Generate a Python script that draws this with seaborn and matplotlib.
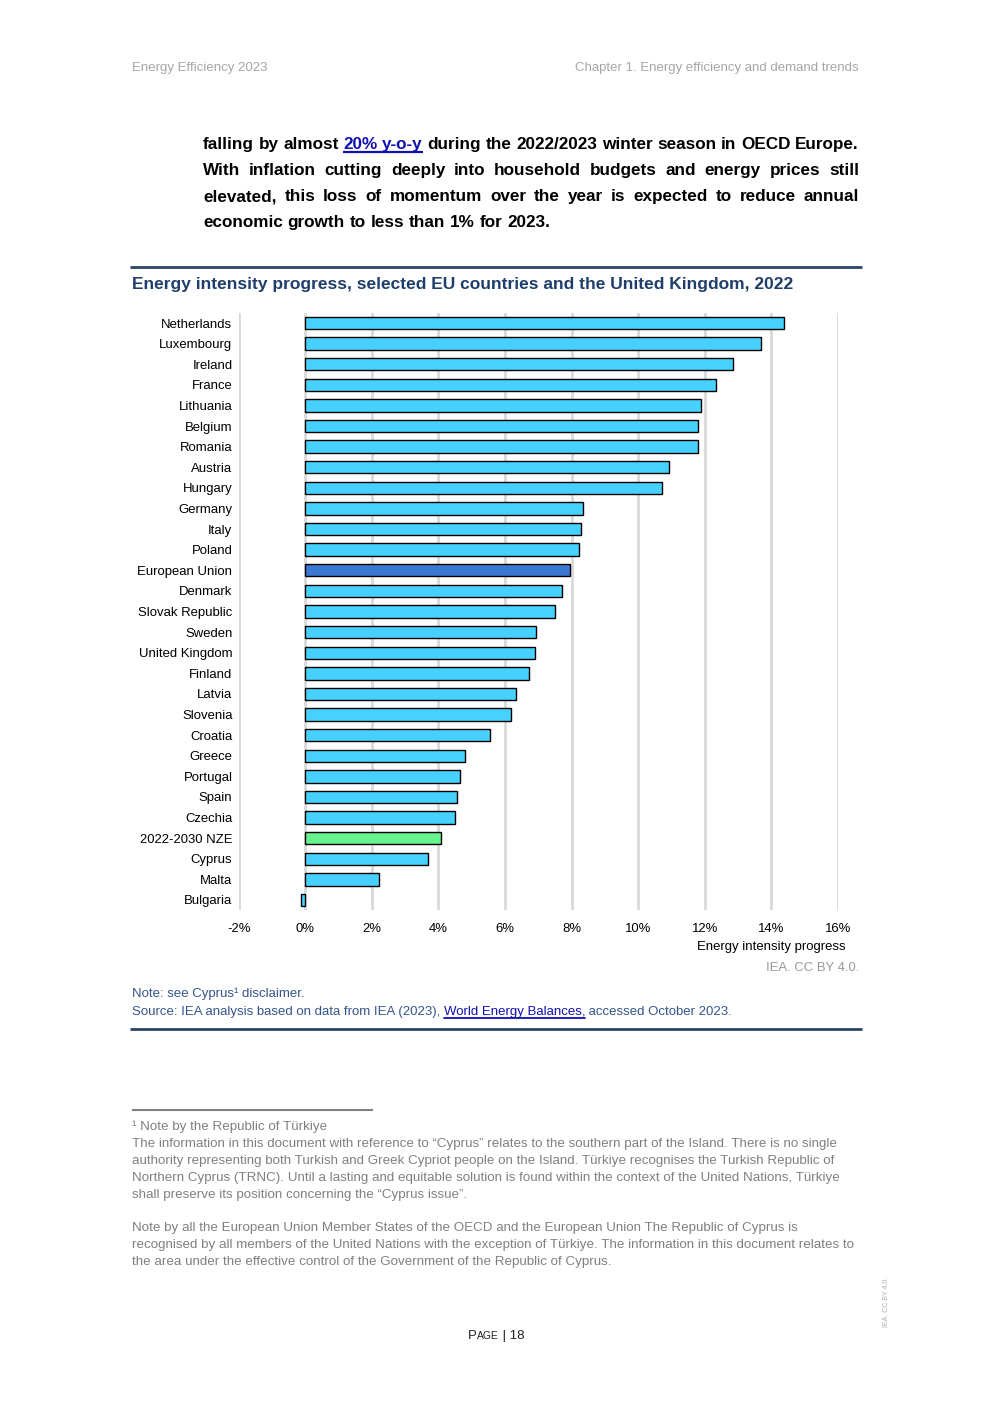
import matplotlib
matplotlib.use("Agg")
import matplotlib.pyplot as plt
from matplotlib.lines import Line2D
import seaborn as sns
import pandas as pd

# ---------------- data ----------------
countries = ["Netherlands", "Luxembourg", "Ireland", "France", "Lithuania", "Belgium",
             "Romania", "Austria", "Hungary", "Germany", "Italy", "Poland",
             "European Union", "Denmark", "Slovak Republic", "Sweden", "United Kingdom",
             "Finland", "Latvia", "Slovenia", "Croatia", "Greece", "Portugal", "Spain",
             "Czechia", "2022-2030 NZE", "Cyprus", "Malta", "Bulgaria"]
values = [14.38, 13.69, 12.85, 12.34, 11.90, 11.81, 11.81, 10.91, 10.70, 8.35, 8.29, 8.23,
          7.96, 7.72, 7.50, 6.94, 6.91, 6.73, 6.34, 6.19, 5.56, 4.80, 4.65, 4.56,
          4.50, 4.08, 3.69, 2.22, -0.12]
eu_name = "European Union"
nze_name = "2022-2030 NZE"
xticks = [-2, 0, 2, 4, 6, 8, 10, 12, 14, 16]
xtick_labels = ["-2%", "0%", "2%", "4%", "6%", "8%", "10%", "12%", "14%", "16%"]

title = "Energy intensity progress, selected EU countries and the United Kingdom, 2022"
xlabel = "Energy intensity progress"
credit = "IEA. CC BY 4.0."

# ---------------- styles ----------------
W, H = 992, 1403
sns.set_theme(style="white")
plt.rcParams['font.family'] = ['Liberation Sans', 'DejaVu Sans']

BAR = "#47D1FF"
EU = "#3B78D4"
NZE = "#66F28C"
GRID = "#D9D9D9"
NAVY = "#1F3E6B"
RULE = "#2C4466"
NOTE = "#34558B"
LINK = "#1010B0"
HEAD = "#A6A6A6"
FOOT = "#808080"

fig = plt.figure(figsize=(W / 100, H / 100), dpi=100)
fig.patch.set_facecolor("white")
renderer = fig.canvas.get_renderer()


def fx(x):
    return x / W


def fy(y):
    return 1 - y / H


def width_of(s, size, weight="normal"):
    t = fig.text(0, 0, s, fontsize=size, fontweight=weight)
    w = t.get_window_extent(renderer).width
    t.remove()
    return w


def fit_size(s, target, weight="normal", base=10.0):
    return base * target / width_of(s, base, weight)


def segments(x, y, segs, size, weight="normal", ha="left"):
    """segs: list of (text, color, underline, size_factor)"""
    widths = [width_of(s, size * f, weight) for s, c, u, f in segs]
    total = sum(widths)
    if ha == "right":
        x = x - total
    elif ha == "center":
        x = x - total / 2
    for (s, c, u, f), w in zip(segs, widths):
        fig.text(fx(x), fy(y), s, fontsize=size * f, fontweight=weight, color=c,
                 va="baseline", ha="left")
        if u:
            fig.add_artist(Line2D([fx(x), fx(x + w)], [fy(y + 2.5), fy(y + 2.5)],
                                  color=c, lw=1.3, transform=fig.transFigure))
        x += w


def hline(x0, x1, y, color, lw):
    fig.add_artist(Line2D([fx(x0), fx(x1)], [fy(y), fy(y)], color=color, lw=lw,
                          transform=fig.transFigure, solid_capstyle="butt"))


# ---------------- header ----------------
hs = fit_size("Chapter 1. Energy efficiency and demand trends", 285)
fig.text(fx(132), fy(71), "Energy Efficiency 2023", fontsize=hs, color=HEAD, va="baseline")
fig.text(fx(859), fy(71), "Chapter 1. Energy efficiency and demand trends", fontsize=hs,
         color=HEAD, va="baseline", ha="right")

# ---------------- paragraph (justified) ----------------
para_lines = [
    "falling by almost 20% y-o-y during the 2022/2023 winter season in OECD Europe.",
    "With inflation cutting deeply into household budgets and energy prices still",
    "elevated, this loss of momentum over the year is expected to reduce annual",
    "economic growth to less than 1% for 2023.",
]
link_words = {"20%", "y-o-y"}
ps = fit_size(para_lines[3], 347, "bold")
space_w = width_of("a b", ps, "bold") - width_of("ab", ps, "bold")
px0, px1 = 203, 859
for i, line in enumerate(para_lines):
    yb = 149 + 26 * i
    words = line.split(" ")
    ws = [width_of(w, ps, "bold") for w in words]
    if i < len(para_lines) - 1:
        gap = (px1 - px0 - sum(ws)) / (len(words) - 1)
    else:
        gap = space_w
    x = px0
    link_start = None
    for w, ww in zip(words, ws):
        col = LINK if w in link_words else "black"
        fig.text(fx(x), fy(yb), w, fontsize=ps, fontweight="bold", color=col, va="baseline")
        if w == "20%":
            link_start = x
        if w == "y-o-y":
            hline(link_start, x + ww, yb + 3, LINK, 1.6)
        x += ww + gap

# ---------------- chart frame ----------------
hline(130, 862, 267, RULE, 2.0)
ts = fit_size(title, 664, "bold")
fig.text(fx(132), fy(289), title, fontsize=ts, fontweight="bold", color=NAVY, va="baseline")

ax = fig.add_axes([fx(238.7), fy(910.3), fx(838) - fx(238.7), fy(312.7) - fy(910.3)])
df = pd.DataFrame({"country": countries, "value": values})
palette = {c: BAR for c in countries}
palette[eu_name] = EU
palette[nze_name] = NZE
sns.barplot(data=df, x="value", y="country", hue="country", palette=palette, legend=False,
            orient="h", width=0.6, edgecolor="black", linewidth=1.0, saturation=1, ax=ax,
            zorder=3)
ax.set_xlim(-2, 16)
ax.set_ylim(len(countries) - 0.5, -0.5)
ax.set_xticks(xticks)
ax.set_xticklabels(xtick_labels)
ax.set_xlabel("")
ax.set_ylabel("")
ax.set_facecolor("white")
for sp in ax.spines.values():
    sp.set_visible(False)
ax.grid(False)
for t in xticks:
    ax.axvline(t, color=GRID, lw=2.0, zorder=0)
ls = fit_size("European Union", 95)
ax.tick_params(axis="y", length=0, pad=4.5, labelsize=ls, labelcolor="black")
ax.tick_params(axis="x", length=0, pad=9, labelsize=ls, labelcolor="black")

fig.text(fx(771), fy(950), xlabel, fontsize=ls, color="black", va="baseline", ha="center")
fig.text(fx(859), fy(971), credit, fontsize=ls, color="#9A9A9A", va="baseline", ha="right")

# ---------------- notes ----------------
src_full = "Source: IEA analysis based on data from IEA (2023), World Energy Balances, accessed October 2023."
ns = fit_size(src_full, 607)
fig.text(fx(132), fy(997), "Note: see Cyprus\u00b9 disclaimer.", fontsize=ns, color=NOTE, va="baseline")
segments(132, 1015, [("Source: IEA analysis based on data from IEA (2023), ", NOTE, False, 1.0),
                     ("World Energy Balances,", LINK, True, 1.0),
                     (" accessed October 2023.", NOTE, False, 1.0)], ns)
hline(130, 862, 1029, RULE, 2.0)

# ---------------- footnotes ----------------
hline(132, 373, 1110, "#808080", 1.5)
foot_lines = [
    (1130, "\u00b9 Note by the Republic of T\u00fcrkiye"),
    (1147, "The information in this document with reference to \u201cCyprus\u201d relates to the southern part of the Island. There is no single"),
    (1164, "authority representing both Turkish and Greek Cypriot people on the Island. T\u00fcrkiye recognises the Turkish Republic of"),
    (1181, "Northern Cyprus (TRNC). Until a lasting and equitable solution is found within the context of the United Nations, T\u00fcrkiye"),
    (1198, "shall preserve its position concerning the \u201cCyprus issue\u201d."),
    (1231, "Note by all the European Union Member States of the OECD and the European Union The Republic of Cyprus is"),
    (1248, "recognised by all members of the United Nations with the exception of T\u00fcrkiye. The information in this document relates to"),
    (1265, "the area under the effective control of the Government of the Republic of Cyprus."),
]
fs = fit_size(foot_lines[3][1], 705) * 1.006
for yb, s in foot_lines:
    fig.text(fx(132), fy(yb), s, fontsize=fs, color=FOOT, va="baseline")

# ---------------- page number & side note ----------------
segments(496, 1339, [("P", "#222222", False, 1.0), ("AGE", "#222222", False, 0.78),
                     (" | 18", "#222222", False, 1.0)], 9.5, ha="center")
fig.text(fx(886), fy(1302), "IEA. CC BY 4.0.", fontsize=5, color="#AAAAAA", rotation=90,
         ha="center", va="center")

fig.savefig("out.png", dpi=100, facecolor="white")
